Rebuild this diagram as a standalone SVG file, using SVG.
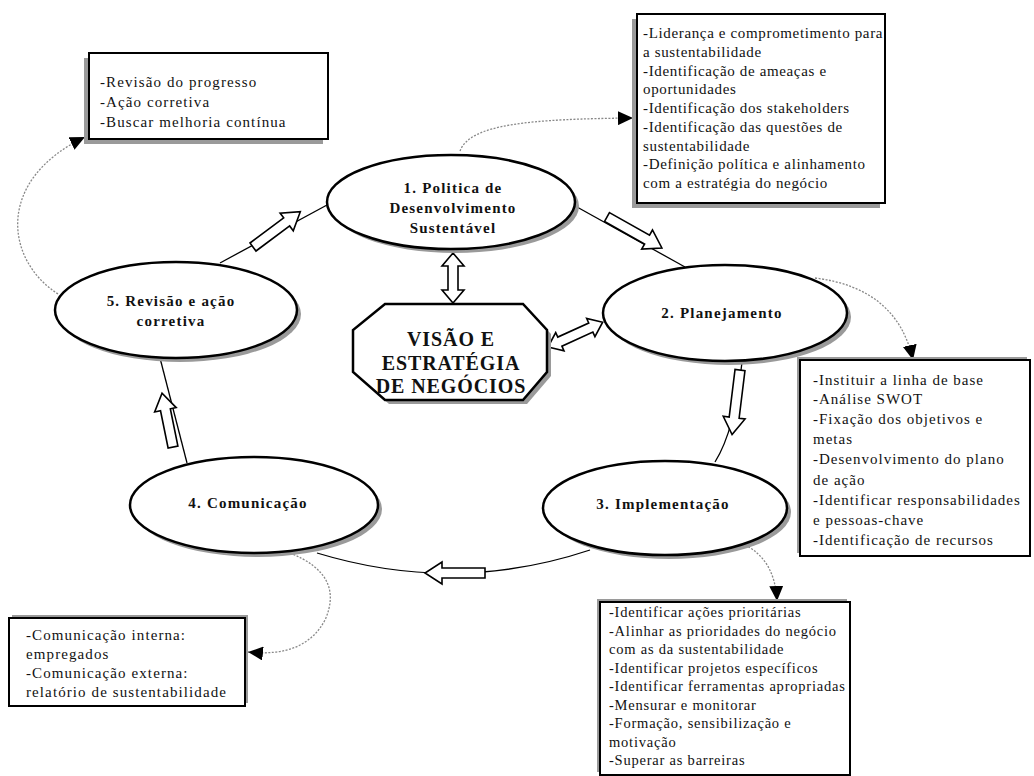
<svg xmlns="http://www.w3.org/2000/svg" width="1034" height="776" viewBox="0 0 1034 776" font-family="Liberation Serif, Times New Roman, DejaVu Serif, serif">
<style>
.bg{fill:#fff}
.ell{fill:#fff;stroke:#000;stroke-width:2.5}
.esh{fill:#9a9a9a}
.box{fill:#fff;stroke:#000;stroke-width:2}
.bsh{fill:#9a9a9a}
text{font-family:'Liberation Serif','Times New Roman','DejaVu Serif',serif;fill:#111}
.lbl{font-weight:bold;font-size:15px;letter-spacing:1.2px;text-anchor:middle}
.big{font-weight:bold;font-size:20px;letter-spacing:0.9px;text-anchor:middle}
.t1{font-size:15px;letter-spacing:1.1px}
.t2{font-size:15px;letter-spacing:0.65px}
.t3{font-size:15px;letter-spacing:1px}
.t4{font-size:14.5px;letter-spacing:0.78px}
.t5{font-size:15px;letter-spacing:1.1px}
.ln{fill:none;stroke:#000;stroke-width:1.3}
.dot{fill:none;stroke:#888;stroke-width:1.3;stroke-dasharray:2 1.5}
.blk{fill:#fff;stroke:#000;stroke-width:1.6;stroke-linejoin:miter}
</style>
<defs>
<marker id="ah" markerUnits="userSpaceOnUse" markerWidth="16" markerHeight="14" refX="15" refY="7" orient="auto">
<path d="M0,0 L15,7 L0,14 Z" fill="#000"/>
</marker>
</defs>
<rect class="bg" x="0" y="0" width="1034" height="776"/>

<g id="connectors">
<path class="ln" d="M577 207 L685 267"/>
<path class="ln" d="M220 263 L327 205"/>
<path class="ln" d="M187 463 L160 358"/>
<path class="ln" d="M590 550 Q455 595 317 553"/>
<path class="ln" d="M742 362 Q735 430 715 462"/>
<path class="dot" d="M460 151 C470 124 530 119 633 118" marker-end="url(#ah)"/>
<path class="dot" d="M815 278 Q897 288 913 360" marker-end="url(#ah)"/>
<path class="dot" d="M745 545 Q775 560 777 601" marker-end="url(#ah)"/>
<path class="dot" d="M290 553 Q345 575 325 620 Q305 658 248 652" marker-end="url(#ah)"/>
<path class="dot" d="M58 294 C5 260 -5 180 85 137" marker-end="url(#ah)"/>
<path class="blk" transform="translate(607,217) rotate(29.4)" d="M0,-5 L46,-5 L46,-11 L63,0 L46,11 L46,5 L0,5 Z"/>
<path class="blk" transform="translate(253,247) rotate(-36.7)" d="M0,-5 L42,-5 L42,-11 L59,0 L42,11 L42,5 L0,5 Z"/>
<path class="blk" transform="translate(173,447) rotate(-101.5)" d="M0,-5 L38,-5 L38,-11 L55,0 L38,11 L38,5 L0,5 Z"/>
<path class="blk" transform="translate(485,573) rotate(180)" d="M0,-5 L43,-5 L43,-11 L60,0 L43,11 L43,5 L0,5 Z"/>
<path class="blk" transform="translate(740,370) rotate(97)" d="M0,-5 L48,-5 L48,-11 L65,0 L48,11 L48,5 L0,5 Z"/>
<path class="blk" transform="translate(453,253) rotate(90)" d="M0,0 L13,-11 L13,-5 L37,-5 L37,-11 L50,0 L37,11 L37,5 L13,5 L13,11 Z"/>
<path class="blk" transform="translate(548,347) rotate(-24.4)" d="M0,0 L13,-10 L13,-5 L47,-5 L47,-10 L60,0 L47,10 L47,5 L13,5 L13,10 Z"/>
</g>

<g id="node1">
<ellipse class="esh" cx="455" cy="206" rx="124" ry="47"/>
<ellipse class="ell" cx="451" cy="202" rx="124" ry="47"/>
<text class="lbl" x="453" y="193">1. Politica de</text>
<text class="lbl" x="453" y="213">Desenvolvimento</text>
<text class="lbl" x="453" y="233">Sustentável</text>
</g>

<g id="node2">
<ellipse class="esh" cx="729" cy="317" rx="122" ry="48"/>
<ellipse class="ell" cx="725" cy="313" rx="122" ry="48"/>
<text class="lbl" x="722" y="318">2. Planejamento</text>
</g>

<g id="node3">
<ellipse class="esh" cx="669" cy="512" rx="122" ry="47"/>
<ellipse class="ell" cx="665" cy="508" rx="122" ry="47"/>
<text class="lbl" x="663" y="509">3. Implementação</text>
</g>

<g id="node4">
<ellipse class="esh" cx="258" cy="509" rx="124" ry="48"/>
<ellipse class="ell" cx="254" cy="505" rx="124" ry="48"/>
<text class="lbl" x="248" y="508">4. Comunicação</text>
</g>

<g id="node5">
<ellipse class="esh" cx="180" cy="314" rx="121" ry="48"/>
<ellipse class="ell" cx="176" cy="310" rx="121" ry="48"/>
<text class="lbl" x="171" y="306">5. Revisão e ação</text>
<text class="lbl" x="171" y="326">corretiva</text>
</g>

<g id="center">
<polygon class="esh" points="389,308 527,308 551,334 551,376 527,404 389,404 357,376 357,334"/>
<polygon class="ell" points="385,304 523,304 547,330 547,372 523,400 385,400 353,372 353,330"/>
<text class="big" x="451" y="346">VISÃO E</text>
<text class="big" x="451" y="370">ESTRATÉGIA</text>
<text class="big" x="451" y="393">DE NEGÓCIOS</text>
</g>

<g id="box-revisao">
<rect class="bsh" x="84" y="58" width="239" height="86"/>
<rect class="box" x="89" y="53" width="239" height="86"/>
<text class="t1" x="100" y="87">-Revisão do progresso</text>
<text class="t1" x="100" y="107">-Ação corretiva</text>
<text class="t1" x="100" y="127">-Buscar melhoria contínua</text>
</g>

<g id="box-politica">
<rect class="bsh" x="632" y="19" width="248" height="189"/>
<rect class="box" x="637" y="14" width="248" height="189"/>
<text class="t2" x="643" y="38">-Liderança e comprometimento para</text>
<text class="t2" x="643" y="57">a sustentabilidade</text>
<text class="t2" x="643" y="76">-Identificação de ameaças e</text>
<text class="t2" x="643" y="94">oportunidades</text>
<text class="t2" x="643" y="113">-Identificação dos stakeholders</text>
<text class="t2" x="643" y="132">-Identificação das questões de</text>
<text class="t2" x="643" y="151">sustentabilidade</text>
<text class="t2" x="643" y="169">-Definição política e alinhamento</text>
<text class="t2" x="643" y="188">com a estratégia do negócio</text>
</g>

<g id="box-planejamento">
<rect class="bsh" x="797" y="357" width="230" height="196"/>
<rect class="box" x="800" y="360" width="230" height="196"/>
<text class="t3" x="813" y="385">-Instituir a linha de base</text>
<text class="t3" x="813" y="404">-Análise SWOT</text>
<text class="t3" x="813" y="424">-Fixação dos objetivos e</text>
<text class="t3" x="813" y="444">metas</text>
<text class="t3" x="813" y="464">-Desenvolvimento do plano</text>
<text class="t3" x="813" y="485">de ação</text>
<text class="t3" x="813" y="505">-Identificar responsabilidades</text>
<text class="t3" x="813" y="525">e pessoas-chave</text>
<text class="t3" x="813" y="545">-Identificação de recursos</text>
</g>

<g id="box-implementacao">
<rect class="bsh" x="597" y="599" width="250" height="173"/>
<rect class="box" x="600" y="602" width="250" height="173"/>
<text class="t4" x="609" y="617">-Identificar ações prioritárias</text>
<text class="t4" x="609" y="635.5">-Alinhar as prioridades do negócio</text>
<text class="t4" x="609" y="654">com as da sustentabilidade</text>
<text class="t4" x="609" y="672.5">-Identificar projetos específicos</text>
<text class="t4" x="609" y="691">-Identificar ferramentas apropriadas</text>
<text class="t4" x="609" y="709.5">-Mensurar e monitorar</text>
<text class="t4" x="609" y="728">-Formação, sensibilização e</text>
<text class="t4" x="609" y="746.5">motivação</text>
<text class="t4" x="609" y="765">-Superar as barreiras</text>
</g>

<g id="box-comunicacao">
<rect class="bsh" x="12" y="615" width="236" height="88"/>
<rect class="box" x="9" y="618" width="236" height="88"/>
<text class="t5" x="26" y="640">-Comunicação interna:</text>
<text class="t5" x="26" y="659">empregados</text>
<text class="t5" x="26" y="678">-Comunicação externa:</text>
<text class="t5" x="26" y="697">relatório de sustentabilidade</text>
</g>
</svg>
